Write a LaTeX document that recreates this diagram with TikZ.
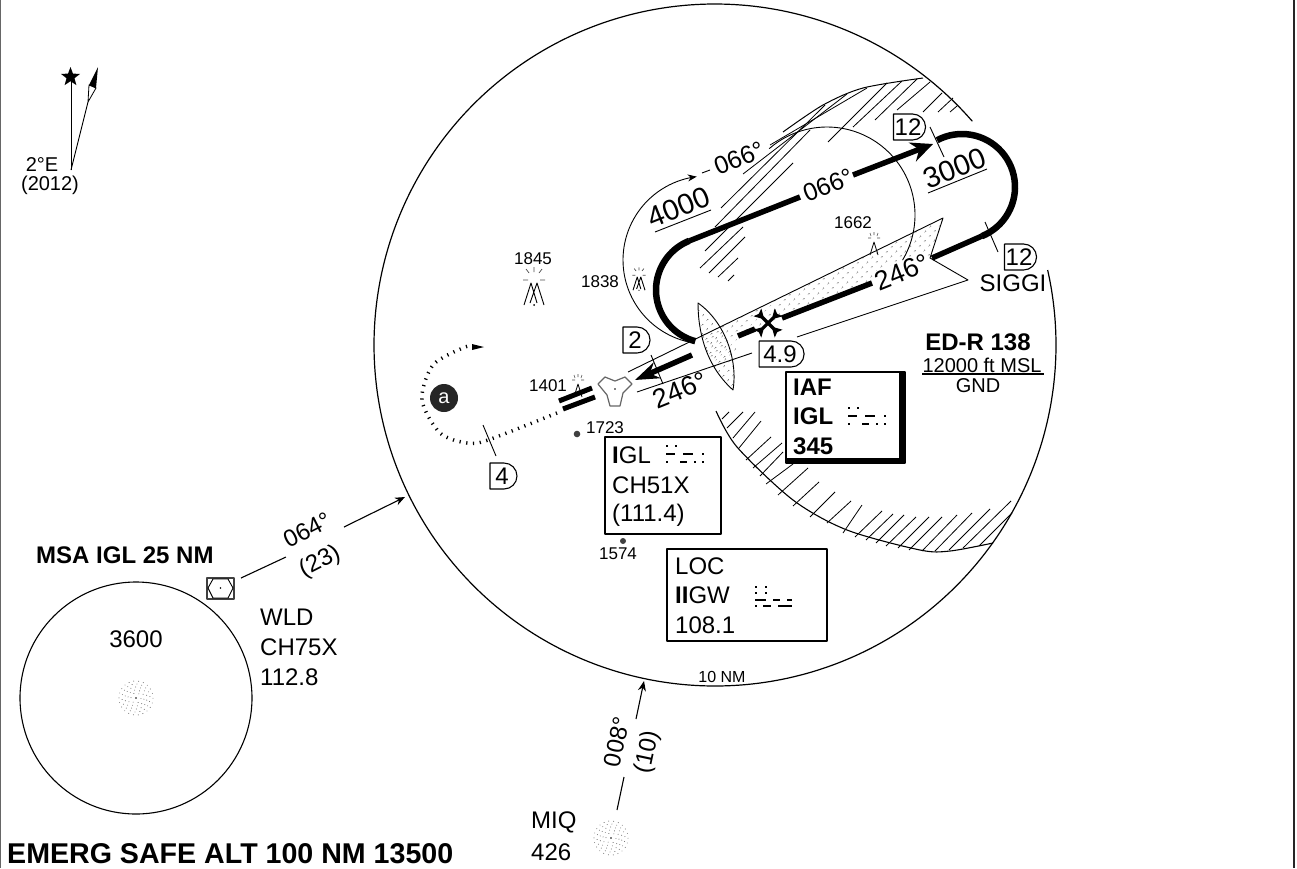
\documentclass[tikz,border=0pt]{standalone}
\usepackage{fontspec}
\setmainfont{Liberation Sans}
\usetikzlibrary{arrows.meta,patterns.meta,shapes.misc,shapes.geometric}

\begin{document}
\begin{tikzpicture}[x=1pt,y=-1pt,line join=round,
  txt/.style={inner sep=0pt,font=\fontsize{24}{24}\selectfont},
  txtb/.style={txt,font=\fontsize{24}{24}\selectfont\bfseries},
  big/.style={txt,font=\fontsize{27}{27}\selectfont,fill=white,inner sep=1pt},
  small/.style={inner sep=0pt,font=\fontsize{17}{17}\selectfont},
  dbox/.style={draw,line width=1.1pt,rounded rectangle,rounded rectangle west arc=none,font=\fontsize{24}{24}\selectfont,inner sep=0pt,minimum height=26pt},
  infobox/.style={draw,line width=1.2pt},
  thin line/.style={line width=0.9pt},
  hatch/.style={line width=0.8pt},
  track/.style={line width=5.5pt,line cap=butt},
  stipple/.style={pattern={Dots[radius=0.7pt,distance=6.5pt,angle=45]},pattern color=black},
]
\useasboundingbox (0,0) rectangle (1297,868);
%% Navaid dots
\tikzset{ndbdots/.pic = {
\fill (0,0) circle (0.9pt);
\foreach \r/\n in {5/6,8/10,11/14,14/18,17/22}{
\foreach \i in {1,...,\n}{
\fill[black!70] ({\r*cos(\i*360/\n+\r)},{\r*sin(\i*360/\n+\r)}) circle (0.45pt);
}
}
}
}
%% Obstacles
\tikzset{groupobst/.pic = {
\draw[line width=0.7pt,black!70] (0,-16) -- (0,-11) (-8,-14) -- (-5,-10) (8,-14) -- (5,-10) (-11,-3) -- (-6,-3) (11,-3) -- (6,-3);
\draw[line width=0.9pt] (-10,22) -- (-3,0) -- (3,20) (-4,20) -- (3,0) -- (10,22);
\fill (0,22) circle (1pt);
}
}
\tikzset{obst/.pic = {
\draw[line width=0.6pt,black!70] (0,-10) -- (0,-7) (-4,-9) -- (-3,-6) (4,-9) -- (3,-6) (-6,-4) -- (-3,-4) (6,-4) -- (3,-4);
\draw[line width=0.8pt] (-4,13) -- (0,0) -- (4,13);
}
}
%% Morse rows
\tikzset{morsecode/.pic = {
\draw[line width=1.3pt,dash pattern=on 2pt off 7pt] (0,0) -- (12,0);
\draw[line width=1.3pt] (0,8) -- (9,8) (17,8) -- (27,8) (36,8) -- (38,8);
\draw[line width=1.3pt] (0,16) -- (2,16) (14,16) -- (21,16) (28,16) -- (30,16) (36,16) -- (38,16);
}
}
\tikzset{morselong/.pic = {
\draw[line width=1.3pt,dash pattern=on 2pt off 8pt] (0,0) -- (13,0) (0,6) -- (13,6);
\draw[line width=1.3pt] (0,13) -- (11,13) (18,13) -- (25,13) (32,13) -- (37,13);
\draw[line width=1.3pt] (0,19) -- (2,19) (8,19) -- (16,19) (23,19) -- (37,19);
}
}
%% Fan marker
\tikzset{fanmarker/.pic = {
\foreach \a in {45,135,225,315}{
\fill[rotate=\a] (0,-1.6) -- (8,-1.6) -- (15,-5.5) -- (13,0) -- (15,5.5) -- (8,1.6) -- (0,1.6) -- cycle;
}
}
}

%% Frame
\draw[black!60,line width=1.5pt] (0.5,0) -- (0.5,868);
\draw[black!85,line width=1.8pt] (1294,0) -- (1294,868);

%% North arrow
\draw[line width=0.9pt] (71,170) -- (71,80);
\node[star,star points=5,star point ratio=2.4,fill=black,inner sep=0pt,minimum size=20pt] (northstar) at (70.5,77) {};
\draw[line width=0.9pt] (71,170) -- (88,102);
\draw[line width=0.8pt] (89,85) -- (96,88) -- (88,102) -- cycle;
\fill (98,67) -- (89,85) -- (96,88) -- cycle;
\node[txt,font=\fontsize{20}{20}\selectfont] (magvar) at (42,165) {2°E};
\node[txt,font=\fontsize{20}{20}\selectfont] (magyear) at (50,185) {(2012)};

%% Ten mile circle
\draw[line width=1.2pt] plot[domain=-12.7:319,samples=220,smooth] ({715+341*cos(\x)},{345+341*sin(\x)});

%% Restricted area hatching
\draw[line width=1pt] plot[smooth] coordinates {(783,132) (823,105) (863,88) (923,78)};
\foreach \xa/\ya/\xb/\yb in {728/281/734/275,718/277/738/258,709/273/745/237,700/268/743/227,705/251/793/163,
715/227/810/130,721/208/825/105,743/174/847/94,770/145/867/88,828/142/887/83,853/127/902/81,875/120/917/79,
897/110/930/82,923/112/942/93,938/112/953/98,950/112/957/106}{
\draw[hatch] (\xa,\ya) -- (\xb,\yb);
}
\draw[line width=1.1pt] plot[smooth] coordinates {(716,411) (737,447) (793,500) (847,530) (920,550) (950,551) (993,543)};
\foreach \xa/\ya/\xb/\yb in {722/419/729/412,727/428/743/412,733/438/755/412,739/448/761/421,746/460/771/437,
753/468/782/443,760/476/783/452,766/484/793/464,778/495/808/468,793/506/819/482,810/517/835/492,827/523/851/501,
843/533/862/505,855/537/882/511,866/540/893/514,876/543/904/515,886/546/916/517,898/548/929/517,909/550/942/517,
922/551/957/515,935/551/972/513,949/550/990/509,963/548/1011/501,979/546/1012/513}{
\draw[hatch] (\xa,\ya) -- (\xb,\yb);
}

%% Localizer stipple
\path[stipple] (700,337) -- (943,218) -- (930,258) -- (738,336) -- (735,358) -- (715,366) -- cycle;
\path[stipple] (698,303) .. controls (698,330) and (705,365) .. (733,390) .. controls (738,360) and (725,322) .. (698,303) -- cycle;
\draw[thin line] (698,303) .. controls (698,330) and (705,365) .. (733,390) .. controls (738,360) and (725,322) .. (698,303) -- cycle;
\draw[thin line] (628,372) -- (943,218) -- (930,258) -- (968,280) -- (797,337);
\draw[thin line] (752,353) -- (637,392);

%% Outbound arc
\draw[thin line,-{Stealth[length=9pt,width=7pt]}] plot[domain=104:263,samples=40,smooth] ({707+84*cos(\x)},{260+84*sin(\x)});
\draw[thin line] (702,173) -- (710,170);
\draw[thin line] plot[domain=-131:31,samples=40,smooth] ({827+88*cos(\x)},{215+88*sin(\x)});

%% Holding track
\draw[track,line width=6.5pt] plot[domain=105:248,samples=40,smooth] ({709+53*cos(\x)},{290+53*sin(\x)});
\draw[track] (689,241) -- (800,197);
\draw[track,-{Stealth[length=22pt,width=20pt]}] (853,175) -- (933,144);
\draw[track,line width=6.5pt] plot[domain=-118:68,samples=40,smooth] ({962+53*cos(\x)},{187+53*sin(\x)});
\draw[track] (982,236) -- (932,258);
\draw[track] (872,283) -- (782,318);
\draw[track] (755,329) -- (738,336);
\draw[track,-{Stealth[length=24pt,width=17pt]}] (692,355) -- (635,380);
\path (768,323) pic {fanmarker};

%% Ticks
\foreach \xa/\ya/\xb/\yb in {930/127/944/157,985/222/998/252,651/355/663/384,483/425/496/456}{
\draw[thin line] (\xa,\ya) -- (\xb,\yb);
}

%% Missed approach turn
\draw[line width=3.5pt,dash pattern=on 1.2pt off 5.6pt] plot[smooth] coordinates {(557,413) (488,440) (467,443) (440,433) (422,400) (433,365) (465,347) (472,347)};
\fill (472,344) -- (484,347) -- (472,350) -- cycle;
\node[circle,fill=black!85,text=white,inner sep=0pt,minimum size=28pt,font=\fontsize{20}{20}\selectfont] (turnpoint) at (444,398) {a};

%% Runway and airport
\draw[line width=5pt] (559,401) -- (592,388);
\draw[line width=5pt] (563,409) -- (595,397);
\draw[black!60,line width=1.2pt,fill=white] (598,384) -- (605,377) -- (615,381) -- (625,377) -- (632,384) -- (623,393) -- (620,406) -- (610,406) -- (607,395) -- cycle;
\fill (615,389) circle (0.8pt);

%% Obstacles
\path (534,283) pic {groupobst};
\path (639,277) pic[scale=0.6] {groupobst};
\path (874,242) pic {obst};
\path (578,384) pic {obst};
\fill[black!75] (577,434) circle (3.3pt);
\fill[black!75] (623,541) circle (3pt);
\node[small] (elevA) at (533,259) {1845};
\node[small] (elevB) at (600,282) {1838};
\node[small] (elevC) at (853,223) {1662};
\node[small] (elevD) at (548,386) {1401};
\node[small] (elevE) at (605,428) {1723};
\node[small] (elevF) at (618,554) {1574};

%% Track labels
\node[big,fill=none,font=\fontsize{29}{29}\selectfont,rotate=22] (altout) at (679,207) {4000};
\draw[thin line] (655,232) -- (711,210);
\node[big,fill=none,font=\fontsize{29}{29}\selectfont,rotate=22] (althold) at (955,168) {3000};
\draw[thin line] (928,193) -- (987,169);
\node[big,fill=none,font=\fontsize{25}{25}\selectfont,rotate=22] (crsout) at (739,158) {066°};
\node[big,fill=none,font=\fontsize{25}{25}\selectfont,rotate=22] (crsmid) at (828,185) {066°};
\node[big,rotate=22] (crsin) at (902,272) {246°};
\node[big,fill=none,rotate=22] (crsapp) at (680,390) {246°};

%% Distance boxes
\node[dbox,minimum width=32pt] (distA) at (908,127) {12};
\node[dbox,minimum width=32pt] (distB) at (1019,257) {12};
\node[dbox,minimum width=27pt] (distC) at (635,340) {2};
\node[dbox,minimum width=27pt] (distD) at (502,476) {4};
\node[dbox,minimum width=45pt,fill=white] (distE) at (780,354) {4.9};
\node[txt,anchor=center] (siggi) at (1013,283) {SIGGI};

%% Restricted area label
\node[txtb] (edr) at (978,342) {ED-R 138};
\node[txt,font=\fontsize{20}{20}\selectfont] (edrtop) at (982,365) {12000 ft MSL};
\draw[line width=1.1pt] (922,374) -- (1044,374);
\node[txt,font=\fontsize{20}{20}\selectfont] (edrlow) at (978,386) {GND};

%% IAF box
\draw[line width=1.2pt,fill=white] (786,372) rectangle (905,463);
\fill (899,372) -- (905,372) -- (905,463) -- (786,463) -- (786,458) -- (899,458) -- cycle;
\node[txtb,anchor=west] (iafa) at (793,387) {IAF};
\node[txtb,anchor=west] (iafb) at (793,416) {IGL};
\node[txtb,anchor=west] (iafc) at (793,446) {345};
\path (848,408) pic {morsecode};

%% IGL box
\draw[infobox,fill=white] (605,437) rectangle (721,534);
\node[txt,anchor=west] (igla) at (612,455) {\textbf{I}GL};
\node[txt,anchor=west] (iglb) at (612,485) {CH51X};
\node[txt,anchor=west] (iglc) at (612,515) {(111.4)};
\path (666,446) pic {morsecode};

%% LOC box
\draw[infobox,fill=white] (667,549) rectangle (827,641);
\node[txt,anchor=west] (loca) at (675,566) {LOC};
\node[txt,anchor=west] (locb) at (675,595) {\textbf{II}GW};
\node[txt,anchor=west] (locc) at (675,625) {108.1};
\path (755,587) pic {morselong};

%% Feeder routes
\coordinate (feedwa) at (241,578);
\coordinate (feedwb) at (286,557);
\coordinate (feedwc) at (344,527);
\coordinate (feedwd) at (405,497);
\draw[line width=1.1pt] (feedwa) -- (feedwb);
\draw[line width=1.1pt,-{Stealth[length=10pt,width=8pt]}] (feedwc) -- (feedwd);
\node[txt,rotate=27] (crswld) at (307,530) {064°};
\node[txt,rotate=27] (distwld) at (320,562) {(23)};
\coordinate (feedma) at (617,810);
\coordinate (feedmb) at (624,777);
\coordinate (feedmc) at (636,719);
\coordinate (feedmd) at (644,681);
\draw[line width=1.1pt] (feedma) -- (feedmb);
\draw[line width=1.1pt,-{Stealth[length=10pt,width=8pt]}] (feedmc) -- (feedmd);
\node[txt,rotate=78] (crsmiq) at (617,742) {008°};
\node[txt,rotate=78] (distmiq) at (648,752) {(10)};
\node[txt,font=\fontsize{16}{16}\selectfont,inner sep=0.5pt] (tennm) at (722,677) {10 NM};

%% MIQ beacon
\path (611,838) pic {ndbdots};
\node[txt,anchor=west] (miqa) at (531,822) {MIQ};
\node[txt,anchor=west] (miqb) at (531,852) {426};

%% MSA circle
\draw[line width=1.1pt] (136,698) circle (116pt);
\path (136,698) pic {ndbdots};
\node[txt] (msaalt) at (136,639) {3600};
\node[txtb,anchor=west] (msa) at (36,555) {MSA IGL 25 NM};
\draw[black!75,line width=1.2pt,fill=white] (207,578) rectangle (234,599);
\draw[line width=0.9pt] (208,588) -- (213,579) -- (228,579) -- (233,588) -- (228,598) -- (213,598) -- cycle;
\fill (220.5,588) circle (0.8pt);
\node[txt,anchor=west] (wlda) at (260,617) {WLD};
\node[txt,anchor=west] (wldb) at (260,647) {CH75X};
\node[txt,anchor=west] (wldc) at (260,677) {112.8};

\node[txtb,anchor=west,font=\fontsize{28.6}{28.6}\selectfont\bfseries] (emerg) at (7,854) {EMERG SAFE ALT 100 NM 13500};
\end{tikzpicture}
\end{document}
